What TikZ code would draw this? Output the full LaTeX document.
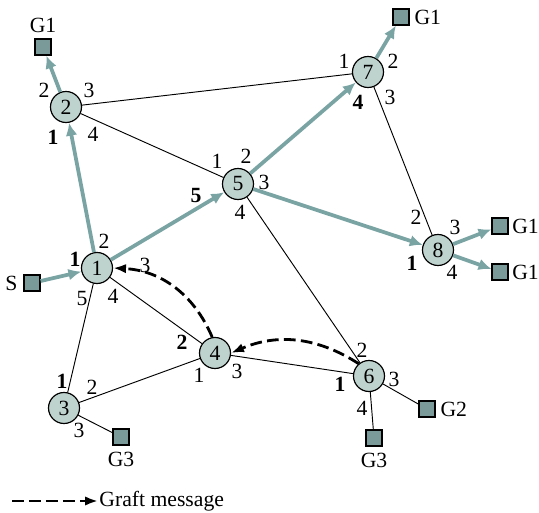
\documentclass[tikz,border=0pt]{standalone}
\usepackage{fontspec}
\setmainfont{Liberation Serif}
\usetikzlibrary{arrows.meta, positioning, calc}
\definecolor{routerfill}{RGB}{190, 210, 206}
\definecolor{hostfill}{RGB}{122, 154, 154}
\definecolor{treeteal}{RGB}{122, 163, 163}
\tikzset{
  router/.style={circle, draw=black, line width=1pt, fill=routerfill, minimum size=0.93cm, inner sep=0pt},
  host/.style={rectangle, draw=black, line width=1pt, fill=hostfill, minimum size=0.48cm, inner sep=0pt},
  tree/.style={treeteal, line width=3.2pt, -{Latex[length=11pt, width=10pt]}},
  link/.style={black, line width=0.8pt},
  graft/.style={black, line width=2.4pt, dash pattern=on 10pt off 4.5pt, -{Latex[length=11pt, width=8pt]}},
  port/.style={inner sep=0pt},
  hostlabel/.style={inner sep=1pt}
}
\begin{document}
\begin{tikzpicture}[x=0.03cm, y=-0.03cm, every node/.style={font=\fontsize{18.5}{20}\selectfont}]
  \useasboundingbox (0,0) rectangle (539,513);
  % Routers
  \foreach \n/\pt in {1/{(97,268)}, 2/{(66,107)}, 3/{(64,408)}, 4/{(215,353)},
                      5/{(238,184)}, 6/{(369,376)}, 7/{(368,72)}, 8/{(438,250)}}{
    \node[router] (r\n) at \pt {\n};
  }
  % Hosts
  \node[host] (g1a) at (43,47) {};
  \node[hostlabel, above=4pt of g1a] (lg1a) {G1};
  \node[host] (g1b) at (401,17) {};
  \node[hostlabel, right=3pt of g1b] (lg1b) {G1};
  \node[host] (g1c) at (500,226) {};
  \node[hostlabel, right=2pt of g1c] (lg1c) {G1};
  \node[host] (g1d) at (500,272) {};
  \node[hostlabel, right=2pt of g1d] (lg1d) {G1};
  \node[host] (src) at (32,283) {};
  \node[hostlabel, left=4pt of src] (lsrc) {S};
  \node[host] (g3a) at (121,437) {};
  \node[hostlabel, below=4pt of g3a] (lg3a) {G3};
  \node[host] (g2) at (427,409) {};
  \node[hostlabel, right=3pt of g2] (lg2) {G2};
  \node[host] (g3b) at (374,438) {};
  \node[hostlabel, below=4pt of g3b] (lg3b) {G3};
  % Plain links
  \draw[link] (r2) -- (r7);
  \draw[link] (r2) -- (r5);
  \draw[link] (r5) -- (r6);
  \draw[link] (r7) -- (r8);
  \draw[link] (r1) -- (r3);
  \draw[link] (r1) -- (r4);
  \draw[link] (r3) -- (r4);
  \draw[link] (r4) -- (r6);
  \draw[link] (r3) -- (g3a);
  \draw[link] (r6) -- (g2);
  \draw[link] (r6) -- (g3b);
  % Multicast tree
  \draw[tree] (src) -- (r1);
  \draw[tree] (r1) -- (r2);
  \draw[tree] (r1) -- (r5);
  \draw[tree] (r2) -- (g1a);
  \draw[tree] (r5) -- (r7);
  \draw[tree] (r5) -- (r8);
  \draw[tree] (r7) -- (g1b);
  \draw[tree] (r8) -- (g1c);
  \draw[tree] (r8) -- (g1d);
  % Graft messages
  \draw[graft] (r6.130) to[bend right=28] (r4.east);
  \draw[graft] (r4.100) to[bend right=32] (r1.east);
  % Port numbers
  \foreach \i/\pt/\t in {a/{(44,90)}/2, b/{(89,90)}/3, c/{(93,134)}/4,
      d/{(104,241)}/2, e/{(145,265)}/3, f/{(113,296)}/4, g/{(82,299)}/5,
      h/{(217,161)}/1, i/{(246,156)}/2, j/{(264,182)}/3, k/{(240,212)}/4,
      l/{(344,61)}/1, m/{(393,61)}/2, n/{(390,97)}/3,
      o/{(416,217)}/2, p/{(455,227)}/3, q/{(452,272)}/4,
      r/{(199,375)}/1, s/{(237,371)}/3,
      t/{(92,387)}/2, u/{(79,430)}/3,
      v/{(362,350)}/2, w/{(394,379)}/3, x/{(362,408)}/4}{
    \node[port] (p\i) at \pt {\t};
  }
  % Incoming ports
  \foreach \i/\pt/\t in {a/{(53,137)}/1, b/{(75,259)}/1, c/{(196,196)}/5, d/{(358,102)}/4,
      e/{(412,263)}/1, f/{(182,342)}/2, g/{(62,381)}/1, h/{(340,384)}/1}{
    \node[port, font=\fontsize{18.5}{20}\selectfont\bfseries] (b\i) at \pt {\t};
  }
  % Legend
  \coordinate (lega) at (12,501);
  \coordinate (legb) at (98,501);
  \draw[graft] (lega) -- (legb);
  \node[anchor=west, inner sep=1pt] (legtext) at (legb) {Graft message};
\end{tikzpicture}
\end{document}
